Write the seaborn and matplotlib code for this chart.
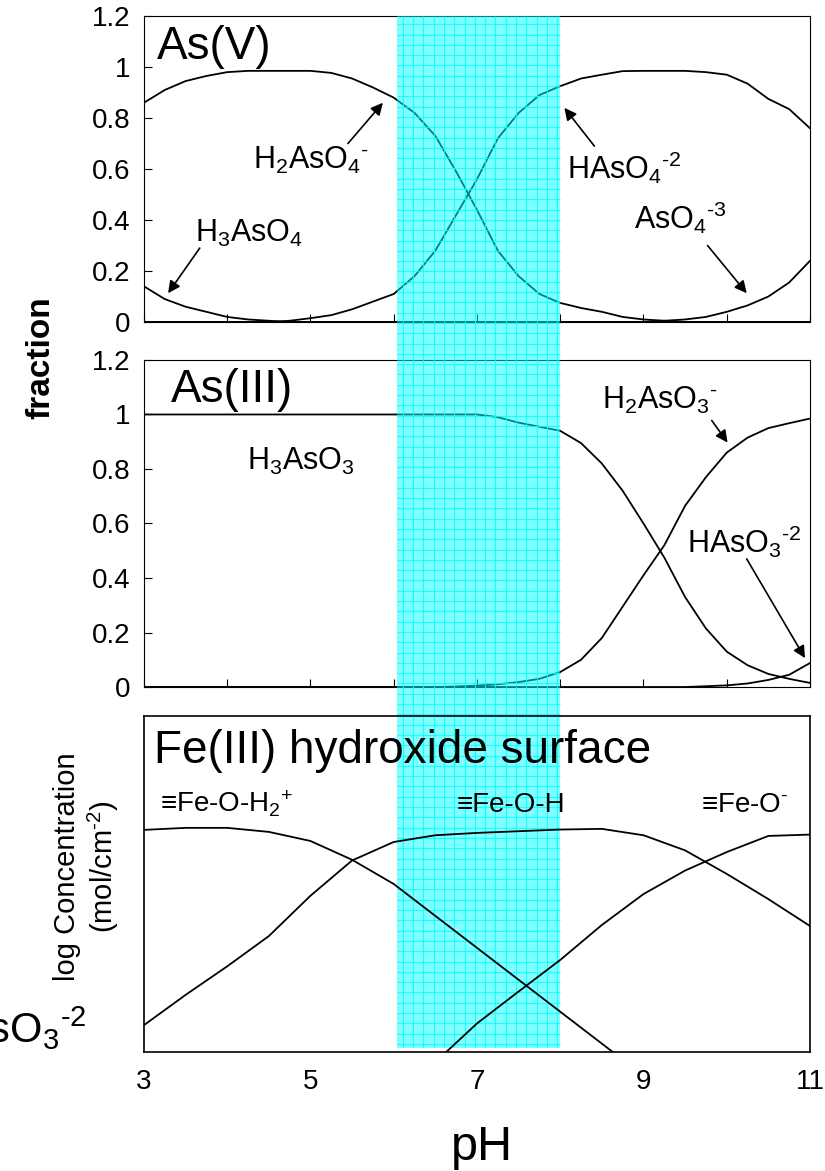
import numpy as np
import pandas as pd
import matplotlib
matplotlib.use("Agg")
import matplotlib.pyplot as plt
import seaborn as sns

sns.set_style("ticks")
plt.rcParams['font.family'] = ['Liberation Sans', 'DejaVu Sans']
plt.rcParams['mathtext.fontset'] = 'custom'
plt.rcParams['mathtext.rm'] = 'Liberation Sans'
plt.rcParams['mathtext.it'] = 'Liberation Sans:italic'
plt.rcParams['mathtext.bf'] = 'Liberation Sans:bold'
plt.rcParams['mathtext.default'] = 'rm'
for key in ['text.color', 'axes.labelcolor', 'xtick.color', 'ytick.color', 'axes.edgecolor']:
    plt.rcParams[key] = 'black'

# pH grid for the speciation panels (0.25 steps)
ph = [3.0, 3.25, 3.5, 3.75, 4.0, 4.25, 4.5, 4.75, 5.0, 5.25, 5.5, 5.75,
      6.0, 6.25, 6.5, 6.75, 7.0, 7.25, 7.5, 7.75, 8.0, 8.25, 8.5, 8.75,
      9.0, 9.25, 9.5, 9.75, 10.0, 10.25, 10.5, 10.75, 11.0]

# As(V) fractions
h3aso4 = [0.14, 0.09, 0.06, 0.04, 0.02, 0.01, 0.005, 0, 0, 0, 0, 0,
          0, 0, 0, 0, 0, 0, 0, 0, 0, 0, 0, 0,
          0, 0, 0, 0, 0, 0, 0, 0, 0]
h2aso4 = [0.86, 0.91, 0.945, 0.965, 0.98, 0.985, 0.985, 0.985, 0.985, 0.977, 0.955, 0.92,
          0.88, 0.82, 0.73, 0.59, 0.44, 0.28, 0.18, 0.11, 0.075, 0.055, 0.04, 0.02,
          0.01, 0.005, 0, 0, 0, 0, 0, 0, 0]
haso4 = [0, 0, 0, 0, 0, 0, 0, 0.005, 0.015, 0.027, 0.05, 0.08,
         0.11, 0.18, 0.28, 0.42, 0.56, 0.72, 0.82, 0.89, 0.925, 0.955, 0.97, 0.984,
         0.985, 0.985, 0.985, 0.98, 0.97, 0.935, 0.875, 0.835, 0.76]
aso4 = [0, 0, 0, 0, 0, 0, 0, 0, 0, 0, 0, 0,
        0, 0, 0, 0, 0, 0, 0, 0, 0, 0, 0, 0,
        0, 0.005, 0.01, 0.02, 0.04, 0.065, 0.1, 0.155, 0.24]

# As(III) fractions
h3aso3 = [1.0, 1.0, 1.0, 1.0, 1.0, 1.0, 1.0, 1.0, 1.0, 1.0, 1.0, 1.0,
          1.0, 1.0, 1.0, 1.0, 1.0, 0.99, 0.97, 0.955, 0.94, 0.895, 0.82, 0.72,
          0.6, 0.475, 0.33, 0.215, 0.13, 0.08, 0.048, 0.03, 0.015]
h2aso3 = [0, 0, 0, 0, 0, 0, 0, 0, 0, 0, 0, 0,
          0, 0, 0, 0.002, 0.005, 0.01, 0.018, 0.03, 0.055, 0.1, 0.18, 0.295,
          0.41, 0.52, 0.665, 0.77, 0.86, 0.915, 0.95, 0.968, 0.985]
haso3 = [0, 0, 0, 0, 0, 0, 0, 0, 0, 0, 0, 0,
         0, 0, 0, 0, 0, 0, 0, 0, 0, 0, 0, 0,
         0, 0, 0, 0.003, 0.006, 0.013, 0.026, 0.045, 0.088]

# Fe(III) hydroxide surface species, relative log concentration (no scale shown)
fe_ph = [3.0, 3.5, 4.0, 4.5, 5.0, 5.5, 6.0, 6.5, 7.0, 7.5, 8.0, 8.5,
         9.0, 9.5, 10.0, 10.5, 11.0]
fe_oh2 = [0.661, 0.667, 0.667, 0.655, 0.628, 0.572, 0.50, 0.405, 0.31, 0.215, 0.12, 0.025,
          -0.07, np.nan, np.nan, np.nan, np.nan]
fe_oh = [0.08, 0.17, 0.255, 0.345, 0.465, 0.57, 0.625, 0.645, 0.652, 0.657, 0.662, 0.664,
         0.645, 0.60, 0.53, 0.455, 0.375]
fe_o = [np.nan, np.nan, np.nan, np.nan, np.nan, np.nan, np.nan, -0.03, 0.085, 0.18, 0.274, 0.378,
        0.47, 0.54, 0.595, 0.643, 0.647]

frac_ticks = [0, 0.2, 0.4, 0.6, 0.8, 1.0, 1.2]
frac_labels = ['0', '0.2', '0.4', '0.6', '0.8', '1', '1.2']
ph_ticks = [3, 5, 7, 9, 11]
ph_labels = ['3', '5', '7', '9', '11']
band_lo, band_hi = 6.04, 8.0

HY = '\u2010'  # short hyphen used for the charges

fig = plt.figure(figsize=(8.25, 11.71), dpi=100)
L, W = 0.1745, 0.8073
ax1 = fig.add_axes([L, 0.7250, W, 0.2613], zorder=0)
ax2 = fig.add_axes([L, 0.4133, W, 0.2793], zorder=1)
ax3 = fig.add_axes([L, 0.1016, W, 0.2870], zorder=3)
band = fig.add_axes([L, 0.1050, W, 0.8813], zorder=2)

line_kw = dict(color='black', linewidth=1.3, estimator=None)

for vals in [h3aso4, h2aso4, haso4, aso4]:
    sns.lineplot(x=ph, y=vals, ax=ax1, **line_kw)
for vals in [h3aso3, h2aso3, haso3]:
    sns.lineplot(x=ph, y=vals, ax=ax2, **line_kw)
for vals in [fe_oh2, fe_oh, fe_o]:
    sns.lineplot(x=fe_ph, y=vals, ax=ax3, **line_kw)

for ax in (ax1, ax2):
    ax.set_xlim(3, 11)
    ax.set_ylim(0, 1.2)
    ax.set_xticks(range(3, 12))
    ax.set_xticklabels([])
    ax.set_yticks(frac_ticks)
    ax.set_yticklabels(frac_labels)
    ax.tick_params(direction='in', length=6, width=0.8, labelsize=20, pad=10,
                   top=False, right=False)
    for s in ax.spines.values():
        s.set_linewidth(0.8)
        s.set_visible(True)
    ax.set_xlabel('')
    ax.set_ylabel('')

ax3.set_xlim(3, 11)
ax3.set_ylim(0, 1)
ax3.set_facecolor('none')
ax3.set_xticks(ph_ticks)
ax3.set_xticklabels(ph_labels)
ax3.set_yticks([])
ax3.tick_params(axis='x', length=0, labelsize=20, pad=12)
for s in ax3.spines.values():
    s.set_linewidth(1.2)
    s.set_visible(True)
ax3.set_xlabel('')
ax3.set_ylabel('')

# cyan band pH 6-8 with fine grid
band.set_xlim(3, 11)
band.set_ylim(0, 1)
band.axis('off')
band.patch.set_alpha(0)
band.axvspan(band_lo, band_hi, color=(0, 1, 1), alpha=0.5, lw=0)
gx = np.arange(band_lo + 0.07, band_hi, 0.1236)
gy = np.arange(0.004, 1, 10.3 / 1032)
band.vlines(gx, 0, 1, color=(0, 1, 1), lw=0.8, alpha=0.8)
band.hlines(gy, band_lo, band_hi, color=(0, 1, 1), lw=0.8, alpha=0.8)

# panel titles
ax1.text(3.156, 1.031, 'As(V)', fontsize=33, va='baseline')
ax2.text(3.324, 1.044, 'As(III)', fontsize=33, va='baseline')
ax3.text(3.12, 0.86, 'Fe(III) hydroxide surface', fontsize=33, va='baseline')

arrow = dict(arrowstyle='-|>', color='black', lw=1.2, mutation_scale=18,
             shrinkA=0, shrinkB=0)
sp = 22

# As(V) species
ax1.text(4.31, 0.60, 'H$_2$AsO$_4{}^{' + HY + '}$', fontsize=sp, va='baseline')
ax1.annotate('', xy=(5.87, 0.86), xytext=(5.45, 0.70), arrowprops=arrow)
ax1.text(3.61, 0.316, 'H$_3$AsO$_4$', fontsize=sp, va='baseline')
ax1.annotate('', xy=(3.29, 0.113), xytext=(3.67, 0.29), arrowprops=arrow)
ax1.text(8.08, 0.5625, 'HAsO$_4{}^{' + HY + '2}$', fontsize=sp, va='baseline')
ax1.annotate('', xy=(8.05, 0.84), xytext=(8.41, 0.69), arrowprops=arrow)
ax1.text(8.89, 0.367, 'AsO$_4{}^{' + HY + '3}$', fontsize=sp, va='baseline')
ax1.annotate('', xy=(10.24, 0.113), xytext=(9.77, 0.30), arrowprops=arrow)

# As(III) species
ax2.text(4.24, 0.795, 'H$_3$AsO$_3$', fontsize=sp, va='baseline')
ax2.text(8.50, 1.022, 'H$_2$AsO$_3{}^{' + HY + '}$', fontsize=sp, va='baseline')
ax2.annotate('', xy=(10.01, 0.897), xytext=(9.82, 0.978), arrowprops=arrow)
ax2.text(9.52, 0.491, 'HAsO$_3{}^{' + HY + '2}$', fontsize=sp, va='baseline')
ax2.annotate('', xy=(10.94, 0.106), xytext=(10.24, 0.47), arrowprops=arrow)

# surface species
ax3.text(3.19, 0.714, '≡Fe-O-H$_2{}^{+}$', fontsize=20, va='baseline')
ax3.text(6.76, 0.714, '≡Fe-O-H', fontsize=20, va='baseline')
ax3.text(9.69, 0.714, '≡Fe-O$^{' + HY + '}$', fontsize=20, va='baseline')

# axis labels
fig.text(41 / 825, 1 - 358 / 1171, 'fraction', fontsize=24, fontweight='bold',
         rotation=90, ha='center', va='center')
fig.text(87 / 825, 1 - 867 / 1171, 'log Concentration\n(mol/cm$^{' + HY + '2}$)', fontsize=21,
         rotation=90, ha='center', va='center', multialignment='center')
fig.text(482 / 825, 1 - 1160 / 1171, 'pH', fontsize=35, ha='center', va='baseline')
# label clipped by the left page edge, as in the original
fig.text(87 / 825, 1 - 1043 / 1171, 'HAsO$_3{}^{' + HY + '2}$', fontsize=30, ha='right', va='baseline')

fig.savefig('out.png', dpi=100)
